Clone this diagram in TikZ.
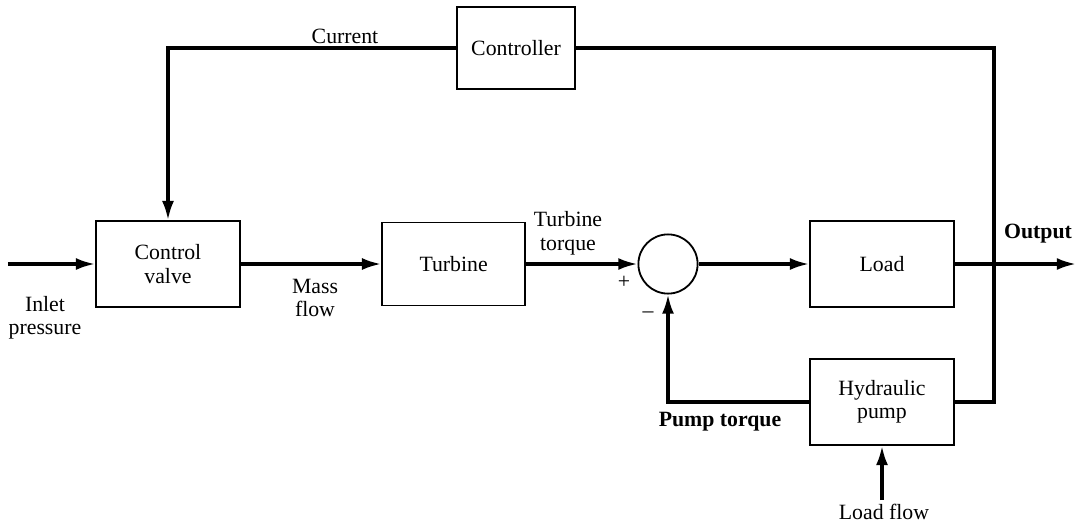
\documentclass[tikz,border=0pt]{standalone}
\usepackage{fontspec}
\setmainfont{Liberation Serif}
\usetikzlibrary{arrows.meta, positioning, calc}

\begin{document}
\begin{tikzpicture}[
    block/.style={draw, line width=1.3pt, minimum width=3.6cm, minimum height=2.15cm, align=center, font=\fontsize{15.5}{16.5}\selectfont},
    sig/.style={line width=2.2pt, -{Latex[length=4.8mm,width=3mm]}},
    wire/.style={line width=2.2pt},
    lbl/.style={align=center, font=\fontsize{15.5}{16.5}\selectfont},
  ]
    \useasboundingbox (0,0) rectangle (27.05,-13.125);

    \node[block] (valve) at (4.2,-6.6) {Control\\valve};
    \node[block, minimum width=3.575cm, minimum height=2.075cm] (turbine) at (11.34,-6.6) {Turbine};
    \node[block, minimum width=2.95cm, minimum height=2.05cm] (ctrl) at (12.9,-1.2) {Controller};
    \node[draw, circle, line width=1.3pt, minimum size=1.48cm] (sum) at (16.7,-6.6) {};
    \node[block] (load) at (22.05,-6.6) {Load};
    \node[block] (pump) at (22.05,-10.05) {Hydraulic\\pump};

    \coordinate (in) at (0.2,-6.6);
    \coordinate (out) at (26.9,-6.6);
    \coordinate (tap) at (24.85,-6.6);
    \coordinate (flow) at (22.05,-12.5);

    \draw[sig] (in) -- (valve);
    \draw[sig] (valve) -- (turbine);
    \draw[sig] (turbine) -- (sum);
    \draw[sig] (sum) -- (load);
    \draw[wire] (ctrl.east) -| (tap |- pump.east) -- (pump.east);
    \draw[sig] (load) -- (out);
    \draw[sig] (ctrl.west) -| (valve.north);
    \draw[sig] (pump.west) -| (sum.south);
    \draw[sig] (flow) -- (pump.south);

    \node[lbl] (inletlbl) at (1.125,-7.95) {Inlet\\pressure};
    \node[lbl] (masslbl) at (7.875,-7.45) {Mass\\flow};
    \node[lbl] (torquelbl) at (14.2,-5.83) {Turbine\\torque};
    \node[lbl] (currentlbl) at (8.625,-0.9) {Current};
    \node[lbl] (outlbl) at (25.95,-5.83) {\textbf{Output}};
    \node[lbl] (pumplbl) at (18.0,-10.55) {\textbf{Pump torque}};
    \node[lbl] (flowlbl) at (22.1,-12.8) {Load flow};
    \node[lbl] (plus) at (15.6,-7.05) {+};
    \node[lbl] (minus) at (16.2,-7.875) {--};
  \end{tikzpicture}
\end{document}
